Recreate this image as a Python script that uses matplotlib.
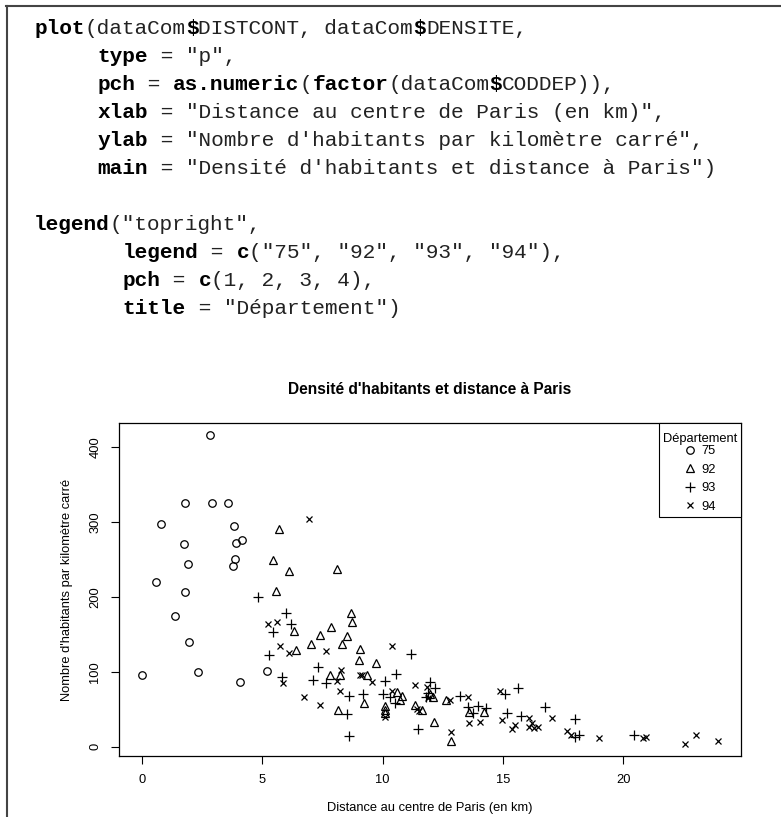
import matplotlib.pyplot as plt
from matplotlib.lines import Line2D

W, H = 781, 817

# Distance au centre de Paris (km) et densité (hab/km²) par département
dist_75 = [2.83, 1.79, 2.92, 3.56, 0.79, 3.84, 1.76, 3.90, 4.14, 1.91,
           3.85, 3.77, 0.58, 1.79, 1.36, 1.95, 0.00, 2.31, 4.07, 5.21]
dens_75 = [416, 326, 326, 326, 297, 295, 271, 272, 276, 244,
           251, 242, 220, 206, 175, 140, 96, 100, 87, 101]

dist_92 = [5.68, 5.45, 6.10, 8.11, 5.57, 8.70, 8.74, 7.85, 8.52, 7.39,
           6.32, 8.33, 9.07, 9.02, 9.71, 6.39, 7.01, 7.82, 8.23, 8.15,
           9.37, 9.23, 10.59, 10.79, 10.73, 10.10, 10.10, 10.12, 11.35, 11.63,
           11.97, 12.11, 12.15, 12.64, 12.83, 13.60, 14.22]
dens_92 = [291, 249, 235, 238, 208, 178, 166, 160, 148, 149,
           154, 137, 130, 116, 112, 129, 137, 96, 96, 49,
           96, 58, 73, 68, 63, 54, 49, 45, 56, 49,
           71, 66, 33, 63, 8, 46, 46]

dist_93 = [4.81, 5.99, 6.18, 5.45, 5.28, 7.33, 5.82, 7.10, 7.64, 8.61,
           8.54, 8.62, 9.17, 10.10, 10.55, 10.03, 10.31, 10.52, 11.49, 11.20,
           11.97, 12.18, 11.90, 11.80, 13.22, 13.53, 13.75, 13.98, 14.30, 15.10,
           15.62, 15.19, 15.74, 16.76, 18.00, 17.98, 18.15, 20.46]
dens_93 = [200, 179, 164, 153, 123, 106, 93, 89, 85, 68,
           44, 14, 71, 88, 97, 71, 66, 59, 24, 124,
           86, 78, 72, 66, 68, 53, 45, 54, 51, 71,
           79, 45, 41, 53, 37, 13, 15, 15]

dist_94 = [6.96, 5.24, 5.61, 5.75, 6.10, 7.65, 10.38, 5.86, 6.72, 8.25,
           8.12, 8.23, 7.40, 9.06, 9.15, 9.55, 10.38, 10.12, 11.35, 11.45,
           11.53, 11.86, 11.90, 12.81, 12.83, 13.57, 13.61, 14.03, 14.89, 14.98,
           15.51, 15.37, 16.10, 16.20, 16.09, 16.30, 16.44, 17.06, 17.66, 17.82,
           19.01, 20.82, 20.96, 22.58, 23.04, 23.94]
dens_94 = [304, 164, 166, 134, 125, 128, 134, 85, 67, 102,
           88, 75, 56, 96, 96, 86, 75, 40, 83, 50,
           47, 80, 65, 63, 19, 66, 31, 33, 74, 36,
           29, 23, 38, 31, 26, 25, 26, 38, 21, 15,
           11.5, 11.5, 13, 4, 15, 7]

departements = ["75", "92", "93", "94"]
series = [(dist_75, dens_75), (dist_92, dens_92), (dist_93, dens_93), (dist_94, dens_94)]
markers = ["o", "^", "+", "x"]
msizes = [5.4, 6.2, 6.8, 4.6]

x_ticks = [0, 5, 10, 15, 20]
y_ticks = [0, 100, 200, 300, 400]

# code R affiché au-dessus du graphique : (texte, gras)
code_lines = [
    [("plot", True), ("(dataCom", False), ("$", True), ("DISTCONT, dataCom", False),
     ("$", True), ("DENSITE,", False)],
    [("     ", False), ("type", True), (' = "p",', False)],
    [("     ", False), ("pch", True), (" = ", False), ("as.numeric", True), ("(", False),
     ("factor", True), ("(dataCom", False), ("$", True), ("CODDEP)),", False)],
    [("     ", False), ("xlab", True), (' = "Distance au centre de Paris (en km)",', False)],
    [("     ", False), ("ylab", True), (' = "Nombre d\'habitants par kilomètre carré",', False)],
    [("     ", False), ("main", True), (' = "Densité d\'habitants et distance à Paris")', False)],
    [],
    [("legend", True), ('("topright",', False)],
    [("       ", False), ("legend", True), (" = ", False), ("c", True),
     ('("75", "92", "93", "94"),', False)],
    [("       ", False), ("pch", True), (" = ", False), ("c", True), ("(1, 2, 3, 4),", False)],
    [("       ", False), ("title", True), (' = "Département")', False)],
]

plt.rcParams["font.family"] = ["Liberation Sans", "DejaVu Sans"]

fig = plt.figure(figsize=(W / 100, H / 100), dpi=100)


def fx(px):
    return px / W


def fy(py):
    return 1 - py / H


# cadre du bloc de code
fig.add_artist(Line2D([fx(6), fx(W)], [fy(6), fy(6)], color="#444444", lw=1.5))
fig.add_artist(Line2D([fx(7), fx(7)], [fy(6), fy(H)], color="#444444", lw=1.5))

char_w = 12.65
code_size = char_w / 0.6 * 72 / 100
for i, segs in enumerate(code_lines):
    y = 28 + 28 * i
    col = 0
    for txt, bold in segs:
        fig.text(fx(34 + col * char_w), fy(y), txt, family="Liberation Mono",
                 fontsize=code_size, fontweight="bold" if bold else "normal",
                 va="center", ha="left", color="black" if bold else "#222222")
        col += len(txt)

# nuage de points
ax = fig.add_axes([fx(119), fy(756), (741 - 119) / W, (756 - 423) / H])
for (xs, ys), m, ms, lab in zip(series, markers, msizes, departements):
    ax.plot(xs, ys, linestyle="none", marker=m, markersize=ms, markerfacecolor="none",
            markeredgecolor="black", markeredgewidth=0.9, color="black", label=lab)

ax.margins(x=0.04, y=0.04)
ax.set_xticks(x_ticks)
ax.set_yticks(y_ticks)
ax.tick_params(length=5.8, width=0.8, labelsize=9.3, pad=7)
ax.tick_params(axis="y", labelrotation=90)
for lbl in ax.get_yticklabels():
    lbl.set_va("center")
for sp in ax.spines.values():
    sp.set_linewidth(0.9)

leg = ax.legend(loc="upper right", borderaxespad=0, title="Département",
                fontsize=9.3, title_fontsize=9.3, fancybox=False, edgecolor="black",
                framealpha=1, handlelength=0.8, handletextpad=0.5, labelspacing=0.5,
                borderpad=0.3)
leg.get_frame().set_linewidth(0.8)
leg.get_title().set_position((0, -6))

fig.text(fx(430), fy(390), "Densité d'habitants et distance à Paris",
         fontsize=11.2, fontweight="bold", ha="center", va="center")
fig.text(fx(67), fy(590), "Nombre d'habitants par kilomètre carré",
         fontsize=9.3, rotation=90, ha="center", va="center")
fig.text(fx(430), fy(808), "Distance au centre de Paris (en km)",
         fontsize=9.3, ha="center", va="center")

fig.savefig("out.png", dpi=100)
